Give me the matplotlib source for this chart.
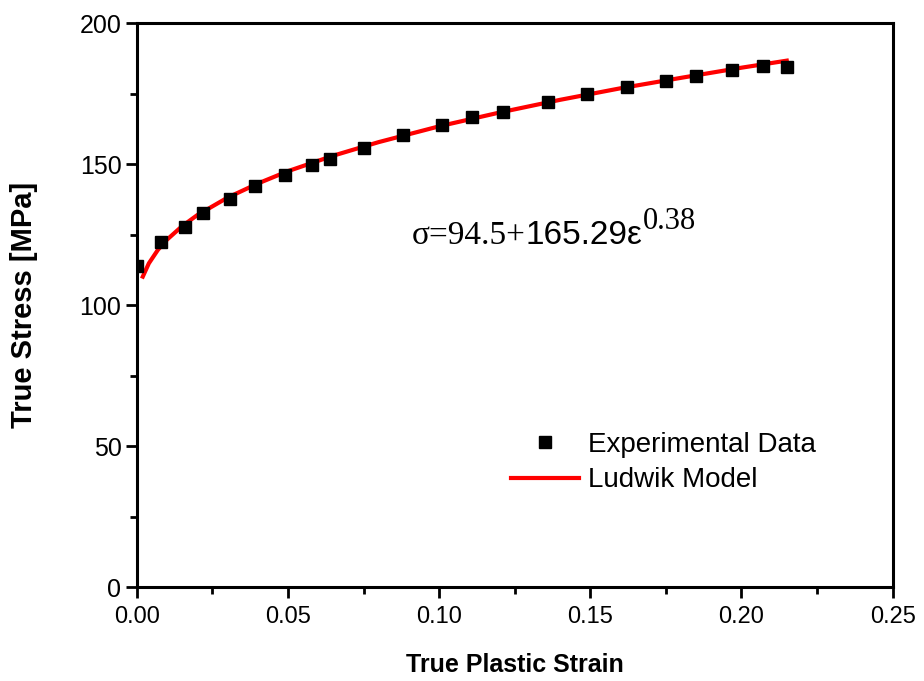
import matplotlib
matplotlib.use("Agg")
import matplotlib.pyplot as plt
from matplotlib.ticker import MultipleLocator, FormatStrFormatter
from matplotlib.lines import Line2D

# experimental points (true plastic strain, true stress in MPa)
exp_strain = [0.000, 0.008, 0.016, 0.022, 0.031, 0.039, 0.049, 0.058, 0.064,
              0.075, 0.088, 0.101, 0.111, 0.121, 0.136, 0.149, 0.162, 0.175,
              0.185, 0.197, 0.207, 0.215]
exp_stress = [114.0, 122.3, 127.7, 132.6, 137.6, 142.2, 146.1, 149.6, 151.8,
              155.7, 160.3, 163.8, 166.7, 168.4, 172.0, 174.8, 177.3, 179.4,
              181.2, 183.3, 184.8, 184.4]

# Ludwik fit curve
fit_strain = [0.002, 0.004, 0.007, 0.010, 0.015, 0.020, 0.030, 0.040, 0.050,
              0.065, 0.080, 0.100, 0.120, 0.140, 0.160, 0.180, 0.200, 0.215]
fit_stress = [110.1, 114.8, 119.6, 123.2, 128.0, 131.9, 138.1, 143.1, 147.5,
              153.0, 157.8, 163.4, 168.3, 172.8, 176.9, 180.6, 184.2, 186.7]

sans = "Liberation Sans"
serif = "Liberation Serif"

fig = plt.figure(figsize=(9.24, 6.81), dpi=100)
ax = fig.add_axes([0.148, 0.138, 0.818, 0.828])

ax.plot(fit_strain, fit_stress, color="#ff0000", lw=3, zorder=3)
ax.plot(exp_strain, exp_stress, ls="none", marker="s", ms=8, color="black", zorder=4)

ax.set_xlim(0, 0.25)
ax.set_ylim(0, 200)
ax.xaxis.set_major_locator(MultipleLocator(0.05))
ax.xaxis.set_minor_locator(MultipleLocator(0.025))
ax.xaxis.set_major_formatter(FormatStrFormatter("%.2f"))
ax.yaxis.set_major_locator(MultipleLocator(50))
ax.yaxis.set_minor_locator(MultipleLocator(25))
ax.tick_params(which="major", direction="out", length=8, width=2)
ax.tick_params(which="minor", direction="out", length=5, width=2)
ax.tick_params(axis="x", labelsize=17, pad=6)
ax.tick_params(axis="y", labelsize=18, pad=3)
for lab in ax.get_xticklabels() + ax.get_yticklabels():
    lab.set_family(sans)
for sp in ax.spines.values():
    sp.set_linewidth(2.2)

ax.set_xlabel("True Plastic Strain", family=sans, fontweight="bold", fontsize=18, labelpad=18)
ax.set_ylabel("True Stress [MPa]", family=sans, fontweight="bold", fontsize=21, labelpad=30)

# equation
t1 = ax.text(0.364, 0.608, "σ=94.5+", transform=ax.transAxes,
             family=serif, fontsize=24, va="baseline")
t2 = ax.annotate("165.29ε", xy=(1, 0), xycoords=t1, family=sans,
                 fontsize=24, va="bottom")
ax.annotate("0.38", xy=(1, 0.5), xycoords=t2, family=serif,
            fontsize=22, va="bottom")

handles = [Line2D([], [], ls="none", marker="s", ms=8, color="black"),
           Line2D([], [], color="#ff0000", lw=3)]
ax.legend(handles, ["Experimental Data", "Ludwik Model"], frameon=False,
          loc="upper left", bbox_to_anchor=(0.47, 0.31),
          prop={"family": sans, "size": 20}, handlelength=2.45,
          handletextpad=0.32, labelspacing=0.35, borderpad=0.2)

fig.savefig("out.png", dpi=100)
